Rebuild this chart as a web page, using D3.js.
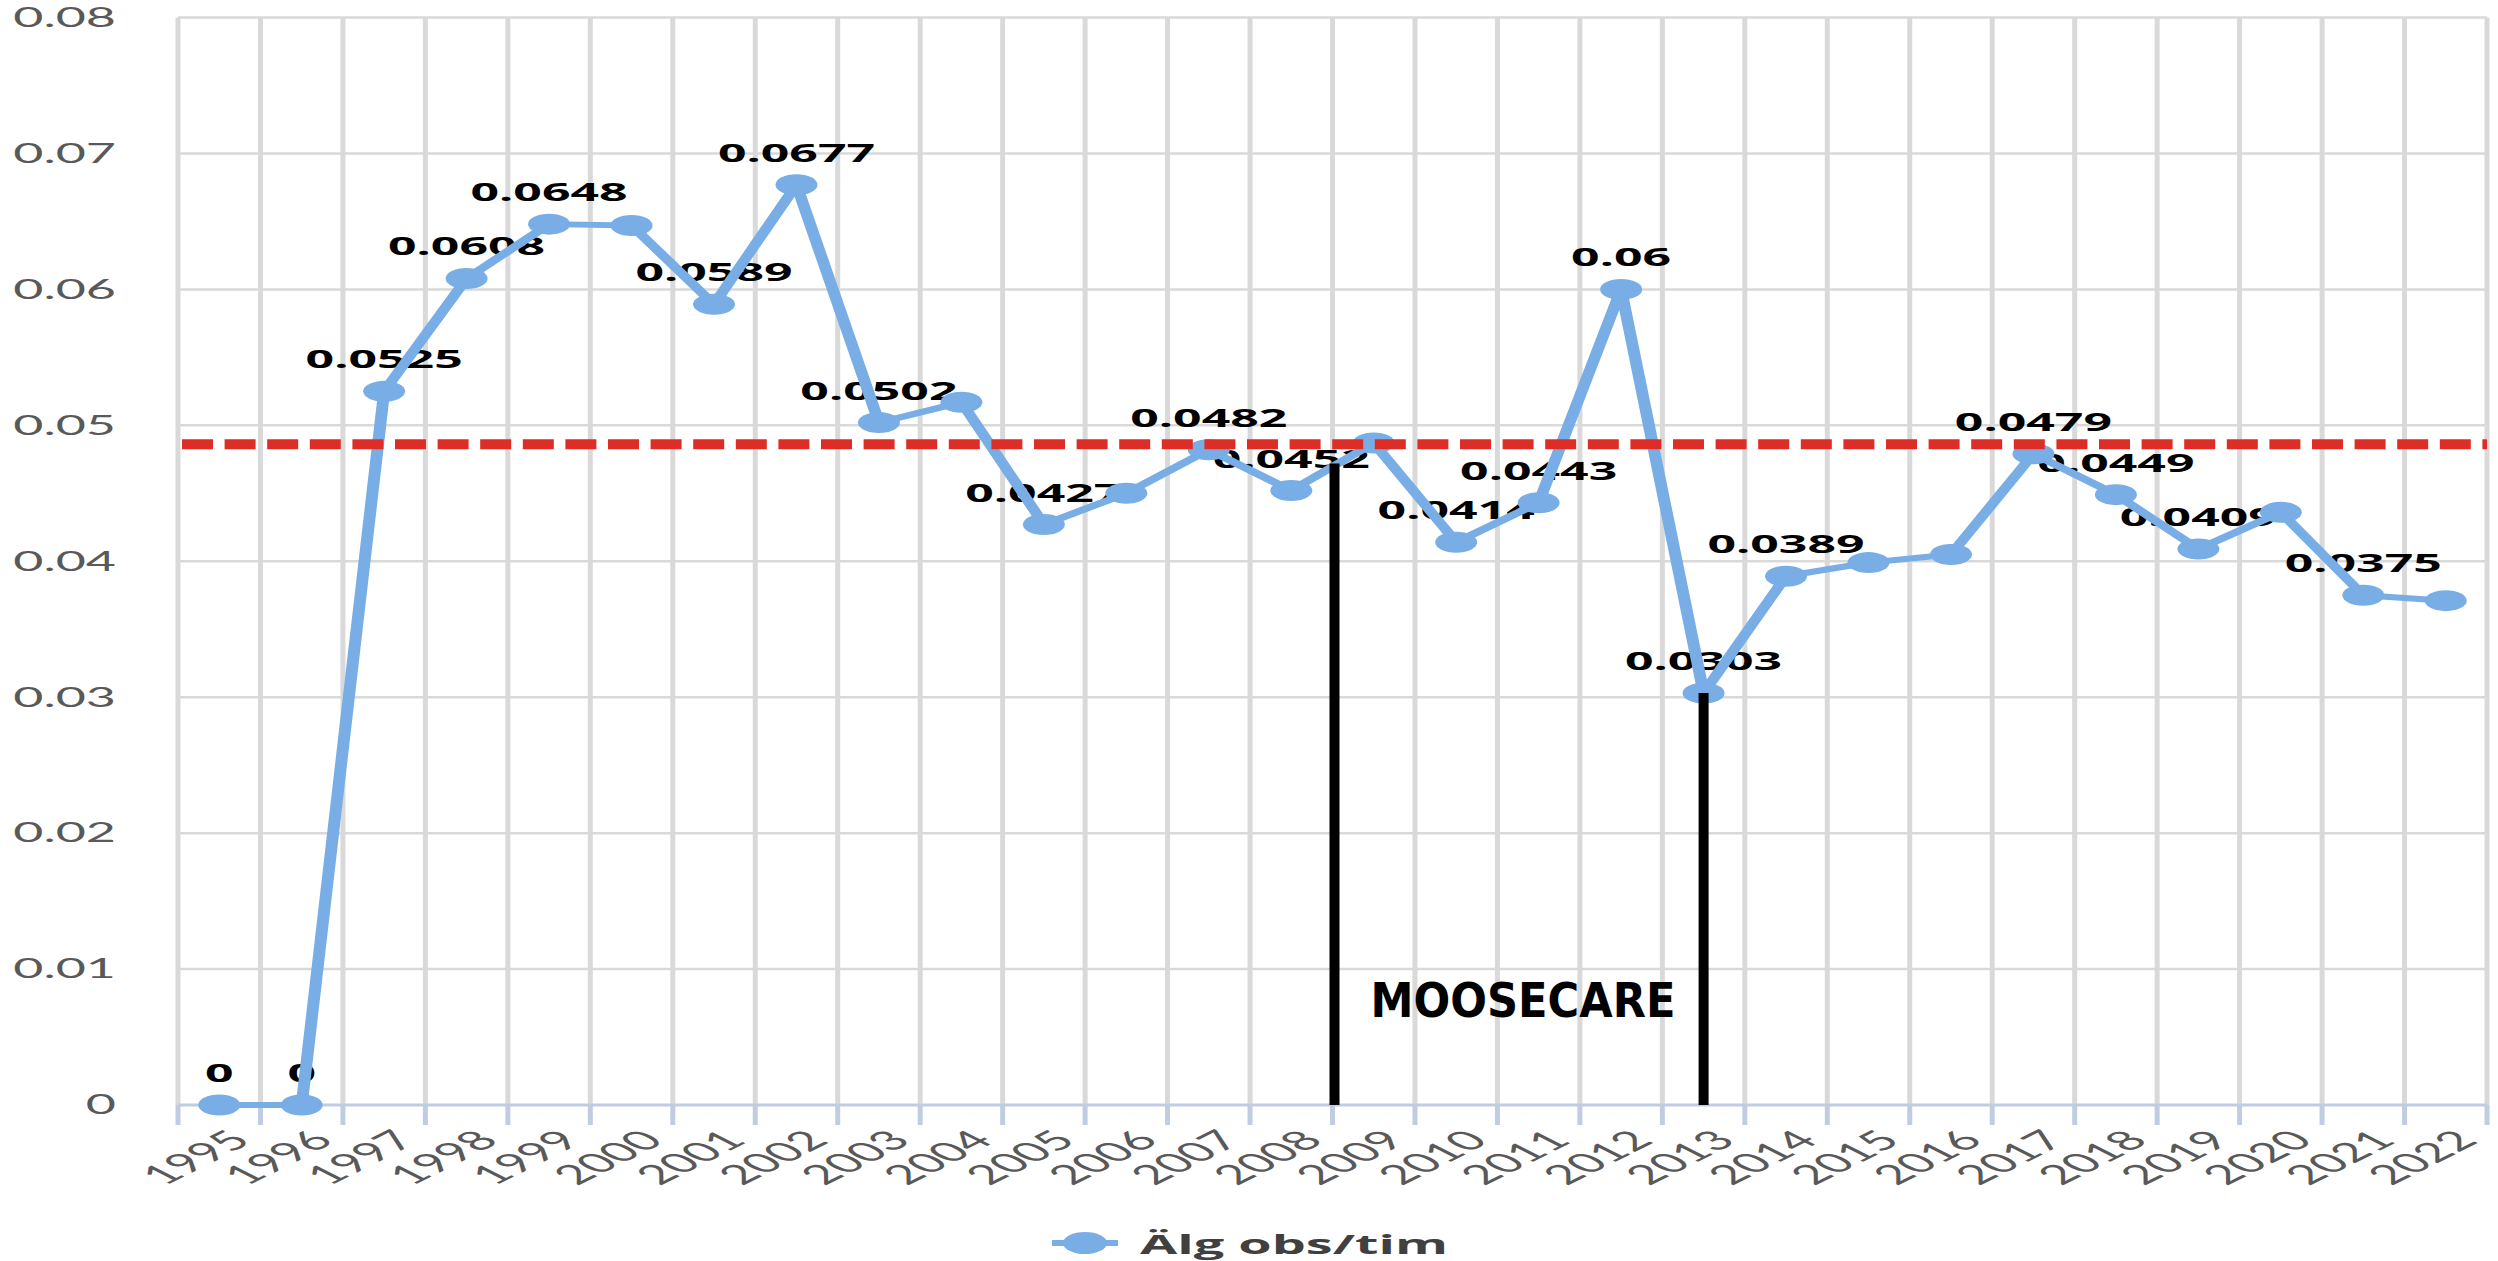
<!DOCTYPE html>
<html>
<head>
<meta charset="utf-8">
<script src="https://cdn.jsdelivr.net/npm/d3@7"></script>
<style>
  body { margin: 0; background: #fff; }
  svg { display: block; }
</style>
</head>
<body>
<div id="chart"></div>
<script>
// data
const years = ["1995", "1996", "1997", "1998", "1999", "2000", "2001", "2002", "2003", "2004",
    "2005", "2006", "2007", "2008", "2009", "2010", "2011", "2012", "2013", "2014",
    "2015", "2016", "2017", "2018", "2019", "2020", "2021", "2022"];
const values = [0, 0, 0.0525, 0.0608, 0.0648, 0.0647, 0.0589, 0.0677, 0.0502, 0.0517,
    0.0427, 0.0450, 0.0482, 0.0452, 0.0487, 0.0414, 0.0443, 0.06, 0.0303, 0.0389,
    0.0399, 0.0405, 0.0479, 0.0449, 0.0409, 0.0436, 0.0375, 0.0371];
// years that carry a data label
const labelYears = ["1995", "1996", "1997", "1998", "1999", "2001", "2002", "2003", "2005",
    "2007", "2008", "2010", "2011", "2012", "2013", "2014", "2017", "2018", "2019", "2021"];
const yTicks = [0, 0.01, 0.02, 0.03, 0.04, 0.05, 0.06, 0.07, 0.08];
const seriesName = "Älg obs/tim";
const refValue = 0.0486;          // red dashed line
const periodStart = { year: "2009", top: 0.0472 };   // black line at start of 2009
const periodEnd = { year: "2013", top: 0.0303 };     // black line at 2013 point
const periodLabel = "MOOSECARE";
const periodLabelValue = 0.0065;

const W = 2498, H = 1261;
const sx = 2.0;  // the original picture is stretched sideways

const svg = d3.select("#chart").append("svg")
    .attr("width", W)
    .attr("height", H);

svg.append("rect").attr("width", W).attr("height", H).attr("fill", "#fff");

const g = svg.append("g").attr("transform", `scale(${sx},1)`);

const x = d3.scaleBand().domain(years).range([178 / sx, 2487 / sx]).padding(0);
const y = d3.scaleLinear().domain([0, 0.08]).range([1105, 17.5]);
const bw = x.bandwidth();
const cx = d => x(d) + bw / 2;

const data = years.map((year, i) => ({ year, value: values[i] }));

// horizontal gridlines
g.append("g").selectAll("line")
    .data(yTicks.filter(t => t > 0))
    .enter().append("line")
    .attr("x1", x.range()[0]).attr("x2", x.range()[1])
    .attr("y1", d => y(d)).attr("y2", d => y(d))
    .attr("stroke", "#d9d9d9").attr("stroke-width", 2.5);

// vertical gridlines at category borders
const borders = years.map(d => x(d)).concat([x.range()[1]]);
g.append("g").selectAll("line")
    .data(borders)
    .enter().append("line")
    .attr("x1", d => d).attr("x2", d => d)
    .attr("y1", y(0.08)).attr("y2", y(0))
    .attr("stroke", "#d9d9d9").attr("stroke-width", 2.5);

// x axis line + ticks
g.append("line")
    .attr("x1", x.range()[0]).attr("x2", x.range()[1])
    .attr("y1", y(0)).attr("y2", y(0))
    .attr("stroke", "#bfcde3").attr("stroke-width", 3);
g.append("g").selectAll("line")
    .data(borders)
    .enter().append("line")
    .attr("x1", d => d).attr("x2", d => d)
    .attr("y1", y(0)).attr("y2", y(0) + 20)
    .attr("stroke", "#bfcde3").attr("stroke-width", 2.5);

// y axis labels
const yAxis = g.append("g")
    .attr("transform", `translate(${x.range()[0]},0)`)
    .call(d3.axisLeft(y).tickValues(yTicks).tickSize(0).tickPadding(31)
        .tickFormat(d => d === 0 ? "0" : d.toFixed(2)));
yAxis.select(".domain").remove();
yAxis.selectAll("text")
    .attr("fill", "#595959")
    .attr("dy", "0.34em")
    .style("font-family", "Lato, 'Open Sans', sans-serif")
    .style("font-size", "26px");

// x axis labels, rotated
const xAxis = g.append("g")
    .attr("transform", `translate(0,${y(0)})`)
    .call(d3.axisBottom(x).tickSize(0));
xAxis.select(".domain").remove();
xAxis.selectAll("text")
    .attr("x", 0).attr("y", 0).attr("dy", null)
    .attr("text-anchor", "end")
    .attr("transform", "translate(17,37) rotate(-45)")
    .attr("fill", "#595959")
    .style("font-family", "Lato, 'Open Sans', sans-serif")
    .style("font-size", "27px");

// data labels
g.append("g").selectAll("text")
    .data(data.filter(d => labelYears.includes(d.year)))
    .enter().append("text")
    .attr("x", d => cx(d.year))
    .attr("y", d => y(d.value) - 23)
    .attr("text-anchor", "middle")
    .style("font-family", "'Open Sans', sans-serif")
    .style("font-weight", "bold")
    .style("font-size", "25px")
    .attr("fill", "#000")
    .text(d => String(d.value));

// series
const blue = "#79ade5";
const line = d3.line().x(d => cx(d.year)).y(d => y(d.value));
g.append("path")
    .datum(data)
    .attr("d", line)
    .attr("fill", "none")
    .attr("stroke", blue)
    .attr("stroke-width", 6)
    .attr("stroke-linejoin", "round");

g.append("g").selectAll("circle")
    .data(data)
    .enter().append("circle")
    .attr("cx", d => cx(d.year))
    .attr("cy", d => y(d.value))
    .attr("r", 10.5)
    .attr("fill", blue);

// reference line
g.append("line")
    .attr("x1", x.range()[0] + 2).attr("x2", x.range()[1])
    .attr("y1", y(refValue)).attr("y2", y(refValue))
    .attr("stroke", "#de2d26")
    .attr("stroke-width", 10)
    .attr("stroke-dasharray", "15.5,5.8");

// period markers
const periodLines = [
    { x: x(periodStart.year) + 1, top: periodStart.top },
    { x: cx(periodEnd.year), top: periodEnd.top }
];
g.append("g").selectAll("line")
    .data(periodLines)
    .enter().append("line")
    .attr("x1", d => d.x).attr("x2", d => d.x)
    .attr("y1", d => y(d.top)).attr("y2", y(0))
    .attr("stroke", "#000")
    .attr("stroke-width", 5);

svg.append("text")
    .attr("x", sx * (periodLines[0].x + periodLines[1].x) / 2 + 4)
    .attr("y", y(periodLabelValue))
    .attr("text-anchor", "middle")
    .style("font-family", "'DejaVu Sans Condensed', 'DejaVu Sans', sans-serif")
    .style("font-weight", "bold")
    .style("font-size", "48px")
    .attr("fill", "#000")
    .text(periodLabel);

// legend
const legend = g.append("g").attr("transform", "translate(526,1243)");
legend.append("line")
    .attr("x1", 0).attr("x2", 33)
    .attr("y1", 0).attr("y2", 0)
    .attr("stroke", blue).attr("stroke-width", 6);
legend.append("circle")
    .attr("cx", 16.5).attr("cy", 0).attr("r", 11)
    .attr("fill", blue);
legend.append("text")
    .attr("x", 44).attr("y", 11)
    .style("font-family", "'Open Sans', sans-serif")
    .style("font-weight", "bold")
    .style("font-size", "27px")
    .attr("fill", "#404040")
    .text(seriesName);
</script>
</body>
</html>
